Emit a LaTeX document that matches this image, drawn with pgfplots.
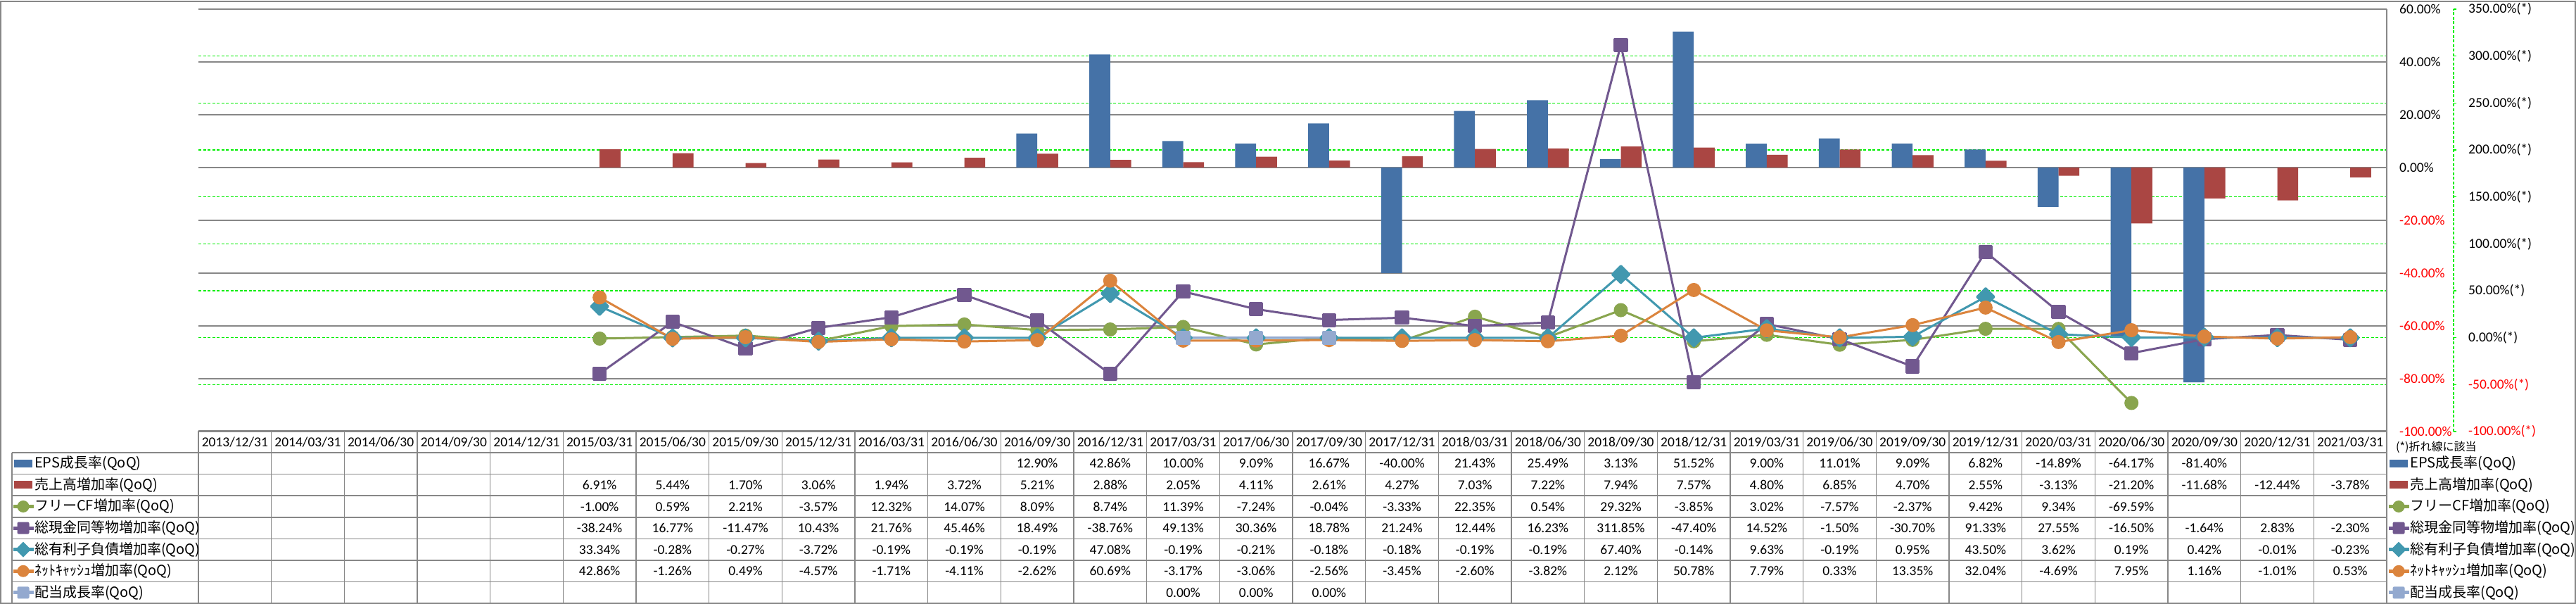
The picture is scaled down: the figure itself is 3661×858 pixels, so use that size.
\documentclass[border=0pt]{standalone}
\usepackage{fontspec}
\setmainfont{Carlito}
\newfontfamily\cjk{Noto Sans CJK JP}
\usepackage{pgfplots}
\usepackage{pgfplotstable}
\pgfplotsset{compat=1.18}
\pgfkeys{/pgf/number format/assume math mode=true}

\definecolor{epsblue}{HTML}{4572A7}
\definecolor{salesred}{HTML}{AA4643}
\definecolor{fcfgreen}{HTML}{89A54E}
\definecolor{cashpurple}{HTML}{71588F}
\definecolor{debtteal}{HTML}{4198AF}
\definecolor{netorange}{HTML}{DB843D}
\definecolor{divblue}{HTML}{93A9CF}
\definecolor{gridgray}{HTML}{878787}
\definecolor{gridgreen}{HTML}{00EE00}
\definecolor{negred}{HTML}{FF0000}

\def\firsttok#1#2\relax{#1}
\newcommand\negred[1]{\edef\tmpv{#1}\edef\tmpf{\expandafter\firsttok\tmpv\relax}\if-\tmpf\color{negred}\fi}
\newcommand\tabfont{\fontsize{19.5}{22}\selectfont}
\newcommand\legfont{\cjk\fontsize{20}{23}\selectfont}
\def\nanstr{nan}

\pgfplotstableread{
x eps sales fcf cash debt net div
0 nan nan nan nan nan nan nan
1 nan nan nan nan nan nan nan
2 nan nan nan nan nan nan nan
3 nan nan nan nan nan nan nan
4 nan nan nan nan nan nan nan
5 nan 6.91 -1.00 -38.24 33.34 42.86 nan
6 nan 5.44 0.59 16.77 -0.28 -1.26 nan
7 nan 1.70 2.21 -11.47 -0.27 0.49 nan
8 nan 3.06 -3.57 10.43 -3.72 -4.57 nan
9 nan 1.94 12.32 21.76 -0.19 -1.71 nan
10 nan 3.72 14.07 45.46 -0.19 -4.11 nan
11 12.90 5.21 8.09 18.49 -0.19 -2.62 nan
12 42.86 2.88 8.74 -38.76 47.08 60.69 nan
13 10.00 2.05 11.39 49.13 -0.19 -3.17 0.00
14 9.09 4.11 -7.24 30.36 -0.21 -3.06 0.00
15 16.67 2.61 -0.04 18.78 -0.18 -2.56 0.00
16 -40.00 4.27 -3.33 21.24 -0.18 -3.45 nan
17 21.43 7.03 22.35 12.44 -0.19 -2.60 nan
18 25.49 7.22 0.54 16.23 -0.19 -3.82 nan
19 3.13 7.94 29.32 311.85 67.40 2.12 nan
20 51.52 7.57 -3.85 -47.40 -0.14 50.78 nan
21 9.00 4.80 3.02 14.52 9.63 7.79 nan
22 11.01 6.85 -7.57 -1.50 -0.19 0.33 nan
23 9.09 4.70 -2.37 -30.70 0.95 13.35 nan
24 6.82 2.55 9.42 91.33 43.50 32.04 nan
25 -14.89 -3.13 9.34 27.55 3.62 -4.69 nan
26 -64.17 -21.20 -69.59 -16.50 0.19 7.95 nan
27 -81.40 -11.68 nan -1.64 0.42 1.16 nan
28 nan -12.44 nan 2.83 -0.01 -1.01 nan
29 nan -3.78 nan -2.30 -0.23 0.53 nan
}\data

\begin{document}
\begin{tikzpicture}[x=1pt,y=1pt]
\path[use as bounding box] (0,0) rectangle (3661,858);
\fill[white] (0,0) rectangle (3661,858);

% right-hand scale: green dashed grid and its labels
\begin{axis}[at={(282pt,245pt)}, anchor=south west, width=3110pt, height=600pt, scale only axis,
  xmin=-0.5, xmax=29.5, ymin=-100, ymax=350, ytick={-100,-50,...,350}, xtick=\empty,
  ymajorgrids, major grid style={draw=gridgreen, dash pattern=on 4pt off 2.5pt, line width=1.3pt},
  axis line style={draw=none}, major tick length=0pt,
  yticklabel pos=right,
  yticklabel style={anchor=west, inner sep=0pt, xshift=116pt, font=\tabfont},
  yticklabel={\negred{\tick}\pgfmathprintnumber[fixed,fixed zerofill,precision=2]{\tick}\%(*)}]
\end{axis}

% bars on the left-hand scale
\begin{axis}[at={(282pt,245pt)}, anchor=south west, width=3110pt, height=600pt, scale only axis,
  xmin=-0.5, xmax=29.5, ymin=-100, ymax=60, ytick={-100,-80,...,60},
  ymajorgrids, major grid style={draw=gridgray, line width=1.5pt},
  axis line style={draw=none}, major tick length=0pt,
  xtick={0,...,29},
  xticklabels={2013/12/31,2014/03/31,2014/06/30,2014/09/30,2014/12/31,2015/03/31,2015/06/30,2015/09/30,2015/12/31,2016/03/31,2016/06/30,2016/09/30,2016/12/31,2017/03/31,2017/06/30,2017/09/30,2017/12/31,2018/03/31,2018/06/30,2018/09/30,2018/12/31,2019/03/31,2019/06/30,2019/09/30,2019/12/31,2020/03/31,2020/06/30,2020/09/30,2020/12/31,2021/03/31},
  xticklabel style={anchor=center, inner sep=0pt, yshift=-15pt, font=\tabfont},
  yticklabel pos=right,
  yticklabel style={anchor=west, inner sep=0pt, xshift=18pt, font=\tabfont},
  yticklabel={\negred{\tick}\pgfmathprintnumber[fixed,fixed zerofill,precision=2]{\tick}\%},
  ybar=0pt, bar width=29.7pt]
\addplot[fill=epsblue, draw=none] table[x=x, y=eps]{\data};
\addplot[fill=salesred, draw=none] table[x=x, y=sales]{\data};
\end{axis}

% lines on the right-hand scale
\begin{axis}[at={(282pt,245pt)}, anchor=south west, width=3110pt, height=600pt, scale only axis,
  xmin=-0.5, xmax=29.5, ymin=-100, ymax=350, hide axis, clip=false]
\addplot[color=fcfgreen, line width=3pt, line join=round, mark=*, mark size=8.5pt, mark options={solid}] table[x=x, y=fcf]{\data};
\addplot[color=cashpurple, line width=3pt, line join=round, mark=square*, mark size=8.6pt, mark options={solid, rounded corners=2pt}] table[x=x, y=cash]{\data};
\addplot[color=debtteal, line width=3pt, line join=round, mark=square*, mark size=8.6pt, mark options={solid, rotate=45}] table[x=x, y=debt]{\data};
\addplot[color=netorange, line width=3pt, line join=round, mark=*, mark size=8.5pt, mark options={solid}] table[x=x, y=net]{\data};
\addplot[color=divblue, line width=3pt, line join=round, mark=square*, mark size=8.6pt, mark options={solid, rounded corners=2pt}] table[x=x, y=div]{\data};
\end{axis}

% plot right border and green secondary axis line
\draw[gridgray, line width=1.5pt] (3392,245) -- (3392,845);
\draw[gridgreen, dash pattern=on 4pt off 2.5pt, line width=1.3pt] (3487,245) -- (3487,845);
\foreach \k in {0,...,9}{\draw[gridgreen, line width=1.3pt] (3487,{245+600/9*\k}) -- ++(4,0);}

% table grid
\begin{scope}[gridgray, line width=1.5pt]
\draw (282,246) -- (3392,246);
\foreach \r in {0,...,7}{\draw (17,{215-30.6*\r}) -- (3392,{215-30.6*\r});}
\draw (17,215) -- (17,1);
\foreach \k in {0,...,30}{\draw ({282+103.667*\k},246) -- ({282+103.667*\k},1);}
\end{scope}

% table values
\foreach \col [count=\r from 0] in {eps,sales,fcf,cash,debt,net,div}{
  \foreach \i in {0,...,29}{
    \pgfplotstablegetelem{\i}{\col}\of\data
    \edef\v{\pgfplotsretval}
    \ifx\v\nanstr\else
      \node[font=\tabfont, inner sep=0pt] at ({282+103.667*(\i+0.5)}, {199.7-30.6*\r}) {\pgfmathprintnumber[fixed,fixed zerofill,precision=2]{\v}\%};
    \fi
  }
}

% legend entries (table row heads and right-hand legend)
\node[anchor=west, inner sep=0pt, font=\cjk\fontsize{16}{18}\selectfont] at (3405,223) {(*)折れ線に該当};
\foreach \t/\c/\lab [count=\r from 0] in {0/epsblue/{EPS成長率(QoQ)}, 0/salesred/{売上高増加率(QoQ)}, 1/fcfgreen/{フリーCF増加率(QoQ)}, 2/cashpurple/{総現金同等物増加率(QoQ)}, 3/debtteal/{総有利子負債増加率(QoQ)}, 1/netorange/{ﾈｯﾄｷｬｯｼｭ増加率(QoQ)}, 2/divblue/{配当成長率(QoQ)}}{
  \pgfmathsetmacro\yy{199.7-30.6*\r}
  \foreach \xc/\xt in {33/49, 3409/3425}{
    \ifcase\t
      \fill[\c] (\xc-13,\yy-5.5) rectangle (\xc+13,\yy+5.5);
    \or
      \draw[\c, line width=5pt] (\xc-14.5,\yy) -- (\xc+14.5,\yy);
      \fill[\c] (\xc,\yy) circle (8.5);
    \or
      \draw[\c, line width=5pt] (\xc-14.5,\yy) -- (\xc+14.5,\yy);
      \fill[\c, rounded corners=2pt] (\xc-8.5,\yy-8.5) rectangle (\xc+8.5,\yy+8.5);
    \or
      \draw[\c, line width=5pt] (\xc-14.5,\yy) -- (\xc+14.5,\yy);
      \fill[\c] (\xc,\yy+11) -- (\xc+11,\yy) -- (\xc,\yy-11) -- (\xc-11,\yy) -- cycle;
    \fi
    \node[anchor=west, inner sep=0pt, font=\legfont] at (\xt,\yy) {\lab};
  }
}

% outer frame
\draw[gridgray, line width=1.5pt] (1,1) rectangle (3660,856);
\end{tikzpicture}
\end{document}
